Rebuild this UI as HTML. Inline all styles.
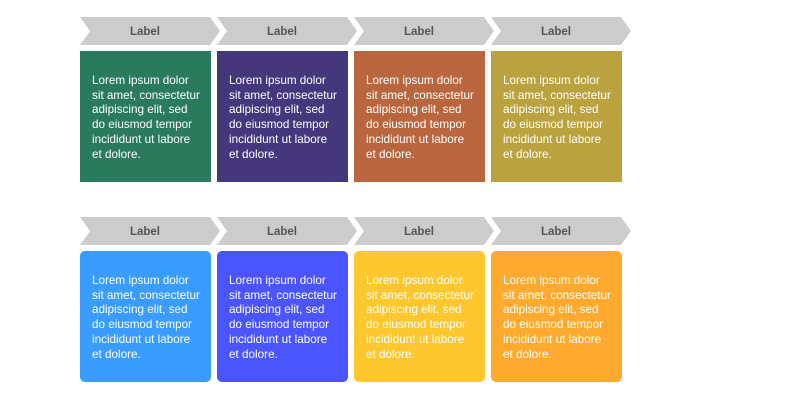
<!DOCTYPE html>
<html><head><style>
body{margin:0;width:800px;height:400px;background:#fff;position:relative;font-family:"Liberation Sans",sans-serif;overflow:hidden}
.b{position:absolute;width:131px;height:131px;color:#fff;font-size:11.7px;line-height:14.7px;box-sizing:border-box;padding:23px 0 0 12px}
.r{border-radius:5px}
svg{position:absolute;left:0;top:0}
</style></head><body>
<svg width="800" height="400">
<g fill="#cccccc">
<polygon points="80,17 210,17 220,31 210,45 80,45 90,31"/>
<polygon points="217,17 347,17 357,31 347,45 217,45 227,31"/>
<polygon points="354,17 484,17 494,31 484,45 354,45 364,31"/>
<polygon points="491,17 621,17 631,31 621,45 491,45 501,31"/>
<polygon points="80,217 210,217 220,231 210,245 80,245 90,231"/>
<polygon points="217,217 347,217 357,231 347,245 217,245 227,231"/>
<polygon points="354,217 484,217 494,231 484,245 354,245 364,231"/>
<polygon points="491,217 621,217 631,231 621,245 491,245 501,231"/>
</g>
<g fill="#555" font-family="Liberation Sans, sans-serif" font-weight="bold" font-size="11.5" text-anchor="middle">
<text x="145" y="35">Label</text><text x="282" y="35">Label</text><text x="419" y="35">Label</text><text x="556" y="35">Label</text>
<text x="145" y="235">Label</text><text x="282" y="235">Label</text><text x="419" y="235">Label</text><text x="556" y="235">Label</text>
</g>
</svg>
<div class="b" style="left:80px;top:51px;background:#2a7a5e">Lorem ipsum dolor<br>sit amet, consectetur<br>adipiscing elit, sed<br>do eiusmod tempor<br>incididunt ut labore<br>et dolore.</div>
<div class="b" style="left:217px;top:51px;background:#45377c">Lorem ipsum dolor<br>sit amet, consectetur<br>adipiscing elit, sed<br>do eiusmod tempor<br>incididunt ut labore<br>et dolore.</div>
<div class="b" style="left:354px;top:51px;background:#b9663e">Lorem ipsum dolor<br>sit amet, consectetur<br>adipiscing elit, sed<br>do eiusmod tempor<br>incididunt ut labore<br>et dolore.</div>
<div class="b" style="left:491px;top:51px;background:#baa23f">Lorem ipsum dolor<br>sit amet, consectetur<br>adipiscing elit, sed<br>do eiusmod tempor<br>incididunt ut labore<br>et dolore.</div>
<div class="b r" style="left:80px;top:251px;background:#3a9cff">Lorem ipsum dolor<br>sit amet, consectetur<br>adipiscing elit, sed<br>do eiusmod tempor<br>incididunt ut labore<br>et dolore.</div>
<div class="b r" style="left:217px;top:251px;background:#4a55ff">Lorem ipsum dolor<br>sit amet, consectetur<br>adipiscing elit, sed<br>do eiusmod tempor<br>incididunt ut labore<br>et dolore.</div>
<div class="b r" style="left:354px;top:251px;background:#ffc72e">Lorem ipsum dolor<br>sit amet, consectetur<br>adipiscing elit, sed<br>do eiusmod tempor<br>incididunt ut labore<br>et dolore.</div>
<div class="b r" style="left:491px;top:251px;background:#ffaa2e">Lorem ipsum dolor<br>sit amet, consectetur<br>adipiscing elit, sed<br>do eiusmod tempor<br>incididunt ut labore<br>et dolore.</div>
</body></html>
